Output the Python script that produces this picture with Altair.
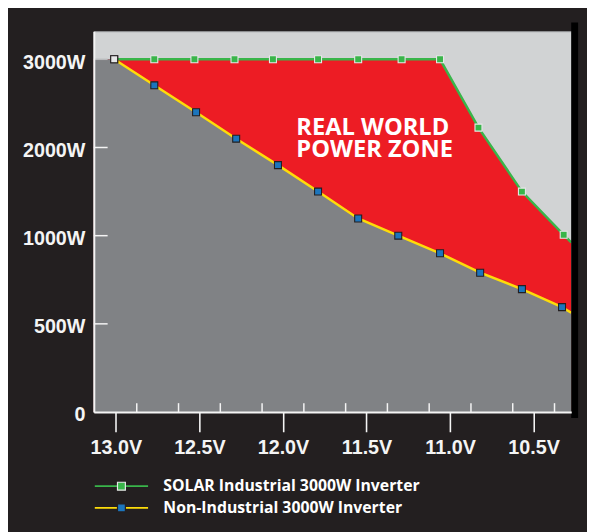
import altair as alt
import pandas as pd

# ---------------- data ----------------
SOLAR = "SOLAR Industrial 3000W Inverter"
STANDARD = "Non-Industrial 3000W Inverter"
SERIES = [SOLAR, STANDARD]

SOLAR_V = [13.01, 12.77, 12.53, 12.29, 12.06, 11.79, 11.55, 11.29, 11.06, 10.83, 10.57, 10.32]
SOLAR_W = [3000, 3000, 3000, 3000, 3000, 3000, 3000, 3000, 3000, 2225, 1500, 1010]

STD_V = [13.01, 12.77, 12.52, 12.28, 12.03, 11.79, 11.55, 11.31, 11.06, 10.82, 10.57, 10.33]
STD_W = [3000, 2705, 2400, 2100, 1800, 1500, 1195, 1000, 900, 790, 697, 595]

# values where the curves meet the left / right edges of the plot
EDGE_V = [13.132, 10.275]
SOLAR_EDGE_W = [3000, 962]
STD_EDGE_W = [3000, 563]

X_TICKS = [13.0, 12.5, 12.0, 11.5, 11.0, 10.5]
X_MINOR = [12.875, 12.625, 12.375, 12.125, 11.875, 11.625, 11.375, 11.125, 10.875, 10.625, 10.375]
Y_TICKS = [0, 500, 1000, 2000, 3000]
Y_INNER_TICKS = [500, 1000, 2000, 3000]

ZONE_TEXT = ["REAL WORLD\nPOWER ZONE"]
ZONE_V = [11.92]
ZONE_W = [2215]

FIRST_V = 13.01

# ---------------- tables ----------------
rows = []
for name, vs, ws, edge in [(SOLAR, SOLAR_V, SOLAR_W, SOLAR_EDGE_W),
                           (STANDARD, STD_V, STD_W, STD_EDGE_W)]:
    rows.append({"series": name, "v": EDGE_V[0], "w": edge[0], "kind": "left"})
    for v, w in zip(vs, ws):
        rows.append({"series": name, "v": v, "w": w, "kind": "marker"})
    rows.append({"series": name, "v": EDGE_V[1], "w": edge[1], "kind": "right"})
df = pd.DataFrame(rows)

zone_df = pd.DataFrame({"t": ZONE_TEXT, "v": ZONE_V, "w": ZONE_W})
minor_df = pd.DataFrame({"v": X_MINOR})
ytick_df = pd.DataFrame({"w": Y_INNER_TICKS})
bar_df = pd.DataFrame({"a": [0]})

# ---------------- layout ----------------
W, H = 484, 386
WHITE = "#f4f4f4"
LABEL_FONT = "Liberation Sans"

X_SCALE = alt.Scale(domain=[EDGE_V[1], EDGE_V[0]], reverse=True, nice=False, zero=False)
Y_SCALE = alt.Scale(domain=[0, 500, 1000, 2000, 3000, 3318],
                    range=[386, 296.6, 207.2, 117.8, 28.4, 0], nice=False, zero=False)

X_AXIS = alt.Axis(values=X_TICKS, labelExpr="format(datum.value, '.1f') + 'V'",
                  title=None, grid=False, tickSize=20, tickWidth=1.6, tickColor=WHITE,
                  domainColor=WHITE, domainWidth=2, labelColor=WHITE, labelFont=LABEL_FONT,
                  labelFontSize=20, labelFontWeight="bold", labelPadding=6,
                  labelFlush=False, labelOverlap=False, zindex=2)
Y_AXIS = alt.Axis(values=Y_TICKS, labelExpr="datum.value == 0 ? '0' : datum.value + 'W'",
                  title=None, grid=False, ticks=False, tickSize=0,
                  domainColor=WHITE, domainWidth=2, labelColor=WHITE, labelFont=LABEL_FONT,
                  labelFontSize=20, labelFontWeight="bold", labelPadding=9, labelOffset=3,
                  labelOverlap=False, zindex=2)


def X(field="v"):
    return alt.X(f"{field}:Q", scale=X_SCALE, axis=X_AXIS)


def Y(field="w"):
    return alt.Y(f"{field}:Q", scale=Y_SCALE, axis=Y_AXIS)


LEG_COMMON = dict(orient="none", legendX=20, legendY=453.2, direction="vertical",
                  title=None, padding=0, symbolSize=64, labelFont="Open Sans",
                  labelFontSize=16, labelFontWeight="bold", labelOffset=34.5,
                  rowPadding=6, labelLimit=400, labelColor="white")

LINE_LEGEND = alt.Legend(symbolType="M-6.75,0H6.75", symbolStrokeWidth=1.8, **LEG_COMMON)
SQUARE_LEGEND = alt.Legend(symbolType="square", symbolStrokeWidth=1.2, labelOpacity=0,
                           **LEG_COMMON)

base = alt.Chart(df)

red_area = base.transform_filter(f"datum.series == '{SOLAR}'").mark_area(
    color="#ed1c24").encode(x=X(), y=Y())
gray_area = base.transform_filter(f"datum.series == '{STANDARD}'").mark_area(
    color="#808285").encode(x=X(), y=Y())

ytick_rules = alt.Chart(ytick_df).mark_rule(strokeWidth=1.5).encode(
    y=Y(), x=alt.value(0), x2=alt.value(14),
    color=alt.condition("datum.w == 3000", alt.value("#b9bbbd"), alt.value(WHITE)))

minor_rules = alt.Chart(minor_df).mark_rule(color=WHITE, strokeWidth=1.5).encode(
    x=X(), y=alt.value(H), y2=alt.value(H - 9))

lines = base.transform_filter("datum.kind != 'left'").mark_line(strokeWidth=2.5).encode(
    x=X(), y=Y(),
    stroke=alt.Stroke("series:N", scale=alt.Scale(domain=SERIES, range=["#39b54a", "#fddc0a"]),
                      legend=LINE_LEGEND))

zone_text = alt.Chart(zone_df).mark_text(
    align="left", baseline="middle", font="Open Sans", fontSize=24, fontWeight="bold",
    lineBreak="\n", lineHeight=22, color="white").encode(x=X(), y=Y(), text="t:N")

points = base.transform_filter("datum.kind == 'marker'").mark_point(
    shape="square", filled=True, size=50, opacity=1, strokeWidth=1.1).encode(
    x=X(), y=Y(),
    fill=alt.condition(f"datum.v == {FIRST_V}", alt.value("#e6e7e8"),
                       alt.Fill("series:N",
                                scale=alt.Scale(domain=SERIES, range=["#39b54a", "#1c75bc"]),
                                legend=SQUARE_LEGEND)),
    stroke=alt.condition(f"datum.v == {FIRST_V}", alt.value("#231f20"),
                         alt.Stroke("series:N",
                                    scale=alt.Scale(domain=SERIES, range=["#e6e7e8", "#231f20"]),
                                    legend=SQUARE_LEGEND)))

right_bar = alt.Chart(bar_df).mark_rule(color="black", strokeWidth=7).encode(
    x=alt.value(W + 3.5), y=alt.value(-9), y2=alt.value(H + 6))

chart = alt.layer(
    red_area, gray_area, ytick_rules, minor_rules, lines, zone_text, points, right_bar
).resolve_scale(
    stroke="independent"
).resolve_legend(
    stroke="independent", fill="independent"
).properties(
    width=W, height=H,
    autosize=alt.AutoSizeParams(type="none"),
    padding={"left": 87, "top": 20, "right": 16, "bottom": 118},
    background="#231f20",
).configure_view(
    fill="#d1d3d4", stroke="#a7a9ac", strokeWidth=1
)

chart.save("out.html", embed_options={"renderer": "svg", "actions": False})
